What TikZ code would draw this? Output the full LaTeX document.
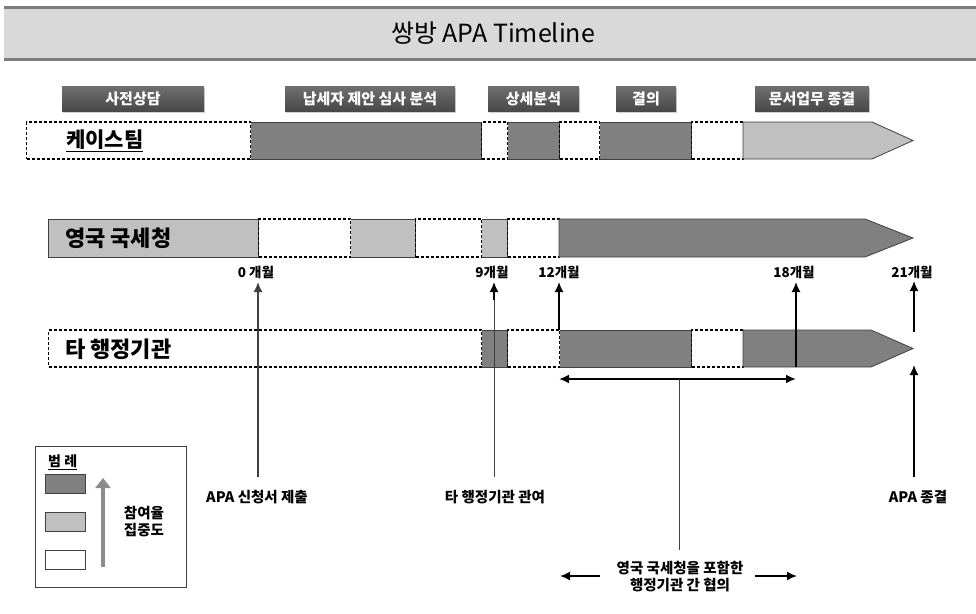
\documentclass[tikz,border=0pt]{standalone}
\usepackage{fontspec}
\setmainfont{Noto Sans CJK KR}
\usetikzlibrary{arrows.meta,shadows}
\definecolor{dkgray}{RGB}{128,128,128}
\definecolor{ltgray}{RGB}{192,192,192}
\definecolor{edgec}{RGB}{64,64,64}
\definecolor{titlefill}{RGB}{217,217,217}
\definecolor{titleline}{RGB}{125,125,125}
\definecolor{hdtop}{RGB}{112,112,112}
\definecolor{hdbot}{RGB}{72,72,72}
\definecolor{legarrow}{RGB}{140,140,140}
\tikzset{
  seg/.style={rectangle, anchor=west, inner sep=0pt, minimum height=37pt},
  dk/.style={seg, fill=dkgray, draw=edgec, line width=0.8pt},
  lt/.style={seg, fill=ltgray, draw=edgec, line width=0.8pt},
  wh/.style={seg, fill=white, draw=black, line width=1.1pt, dash pattern=on 3pt off 2pt},
  tipdk/.style={fill=dkgray, draw=edgec, line width=0.8pt},
  tiplt/.style={fill=ltgray, draw=edgec, line width=0.8pt},
  rowlabel/.style={anchor=west, inner sep=0pt, font=\bfseries\fontsize{22}{24}\selectfont},
  hdbox/.style={rectangle, inner sep=0pt, minimum height=25pt, top color=hdtop, bottom color=hdbot,
    text=white, font=\bfseries\fontsize{15}{17}\selectfont,
    drop shadow={shadow xshift=1.2pt, shadow yshift=-1.5pt, opacity=0.35}},
  month/.style={inner sep=0pt, font=\bfseries\fontsize{13.5}{15}\selectfont},
  note/.style={inner sep=0pt, align=center, font=\bfseries\fontsize{14.5}{16}\selectfont},
  tipa/.tip={Latex[length=10pt,width=9pt]},
  uparrow/.style={draw=black, line width=1.6pt, -tipa},
  thinline/.style={draw=edgec, line width=1pt},
}
\begin{document}
\begin{tikzpicture}[x=1pt,y=-1pt]
\useasboundingbox (0,0) rectangle (976,613);
% title bar
\fill[titlefill] (4,7) rectangle (976,59);
\draw[titleline, line width=3pt] (4,7) -- (976,7);
\draw[titleline, line width=3pt] (4,59) -- (976,59);
\node[inner sep=0pt, font=\fontsize{25}{28}\selectfont] (title) at (493,33) {쌍방 APA Timeline};

% header boxes
\node[hdbox, minimum width=142pt] (h1) at (133,98.5) {사전상담};
\node[hdbox, minimum width=170pt] (h2) at (370,98.5) {납세자 제안 심사 분석};
\node[hdbox, minimum width=91pt] (h3) at (533.5,98.5) {상세분석};
\node[hdbox, minimum width=60pt] (h4) at (646,98.5) {결의};
\node[hdbox, minimum width=114pt] (h5) at (812,98.5) {문서업무 종결};

% row 1 : case team
\node[dk, minimum width=231pt] (r1b) at (250,140.5) {};
\node[dk, minimum width=52pt] (r1d) at (507,140.5) {};
\node[dk, minimum width=92pt] (r1f) at (599,140.5) {};
\node[wh, minimum width=224pt] (r1a) at (26,140.5) {};
\node[wh, minimum width=26pt] (r1c) at (481,140.5) {};
\node[wh, minimum width=40pt] (r1e) at (559,140.5) {};
\node[wh, minimum width=52pt] (r1g) at (691,140.5) {};
\draw[tiplt] (743,122) -- (872,122) -- (913,140.5) -- (872,159) -- (743,159) -- cycle;
\coordinate (r1tip) at (913,140.5);
\node[rowlabel, font=\bfseries\fontsize{21}{24}\selectfont] (l1) at (66,141) {\underline{케이스팀}};

% row 2 : HMRC
\node[lt, minimum width=210pt, minimum height=38pt] (r2a) at (48,238) {};
\node[lt, minimum width=65pt, minimum height=38pt] (r2c) at (350,238) {};
\node[lt, minimum width=26pt, minimum height=38pt] (r2e) at (481,238) {};
\node[wh, minimum width=92pt, minimum height=38pt] (r2b) at (258,238) {};
\node[wh, minimum width=66pt, minimum height=38pt] (r2d) at (415,238) {};
\node[wh, minimum width=52pt, minimum height=38pt] (r2f) at (507,238) {};
\draw[tipdk] (559,219) -- (865,219) -- (913,238) -- (865,257) -- (559,257) -- cycle;
\coordinate (r2tip) at (913,238);
\node[rowlabel] (l2) at (65,238) {영국 국세청};

% month labels
\node[month] (m0) at (256,272) {0 개월};
\node[month] (m9) at (492,272) {9개월};
\node[month] (m12) at (559,272) {12개월};
\node[month] (m18) at (794,272) {18개월};
\node[month] (m21) at (912,272) {21개월};

% row 3 : other agencies
\node[dk, minimum width=26pt] (r3b) at (481,348.5) {};
\node[dk, minimum width=132pt] (r3d) at (559,348.5) {};
\node[wh, minimum width=433pt] (r3a) at (48,348.5) {};
\node[wh, minimum width=52pt] (r3c) at (507,348.5) {};
\node[wh, minimum width=52pt] (r3e) at (691,348.5) {};
\draw[tipdk] (743,330) -- (871,330) -- (913,348.5) -- (871,367) -- (743,367) -- cycle;
\coordinate (r3tip) at (913,348.5);
\node[rowlabel] (l3) at (65,349) {타 행정기관};

% notes
\node[note] (n0) at (257,497) {APA 신청서 제출};
\node[note] (n9) at (495,497) {타 행정기관 관여};
\node[note] (n21) at (918,497) {APA 종결};
\node[note, font=\bfseries\fontsize{14.5}{17}\selectfont] (nc) at (680,577) {영국 국세청을 포함한\\행정기관 간 협의};

% coordinates for arrows
\coordinate (a0s) at (258,477);
\coordinate (a0e) at (258,282);
\coordinate (a9s) at (494,477);
\coordinate (a9e) at (494,282);
\coordinate (c12) at (559,379);
\coordinate (s12) at (559,330);
\coordinate (a12e) at (559,282);
\coordinate (c18) at (796,379);
\coordinate (s18) at (796,367);
\coordinate (a18e) at (796,282);
\coordinate (a21s) at (914,332);
\coordinate (a21e) at (914,281);
\coordinate (b21s) at (914,477);
\coordinate (b21e) at (914,365);
\coordinate (cm) at (679,379);
\coordinate (cb) at (679,550);
\coordinate (cl1) at (600,576);
\coordinate (cl2) at (560,576);
\coordinate (cr1) at (755,576);
\coordinate (cr2) at (797,576);

\draw[uparrow, draw=edgec] (a0s) -- (a0e);
\draw[thinline] (a9s) -- (494,300);
\draw[uparrow] (494,300) -- (a9e);
\draw[uparrow] (s12) -- (a12e);
\draw[uparrow] (s18) -- (a18e);
\draw[uparrow] (a21s) -- (a21e);
\draw[uparrow] (b21s) -- (b21e);
\draw[black, line width=2pt, tipa-tipa] (c12) -- (c18);
\draw[thinline] (cm) -- (cb);
\draw[black, line width=1.6pt, -tipa] (cl1) -- (cl2);
\draw[black, line width=1.6pt, -tipa] (cr1) -- (cr2);

% legend
\node[rectangle, draw=edgec, line width=1pt, fill=white, minimum width=151pt, minimum height=141pt, anchor=north west, inner sep=0pt] (leg) at (35,446) {};
\node[anchor=west, inner sep=0pt, font=\bfseries\fontsize{14}{16}\selectfont] (legt) at (48,462) {\underline{범 례}};
\node[rectangle, anchor=north west, inner sep=0pt, minimum width=40pt, minimum height=19pt, fill=dkgray, draw=edgec, line width=0.8pt] (sw1) at (45,474) {};
\node[rectangle, anchor=north west, inner sep=0pt, minimum width=40pt, minimum height=19pt, fill=ltgray, draw=edgec, line width=0.8pt] (sw2) at (45,512) {};
\node[rectangle, anchor=north west, inner sep=0pt, minimum width=40pt, minimum height=19pt, fill=white, draw=edgec, line width=0.8pt] (sw3) at (45,550) {};
\coordinate (la1) at (103,567);
\coordinate (la2) at (103,478);
\draw[legarrow, line width=4.5pt, -{Triangle[length=10pt,width=15pt]}] (la1) -- (la2);
\node[note, font=\bfseries\fontsize{14.5}{17}\selectfont] (legtxt) at (144,522) {참여율\\집중도};
\end{tikzpicture}
\end{document}
